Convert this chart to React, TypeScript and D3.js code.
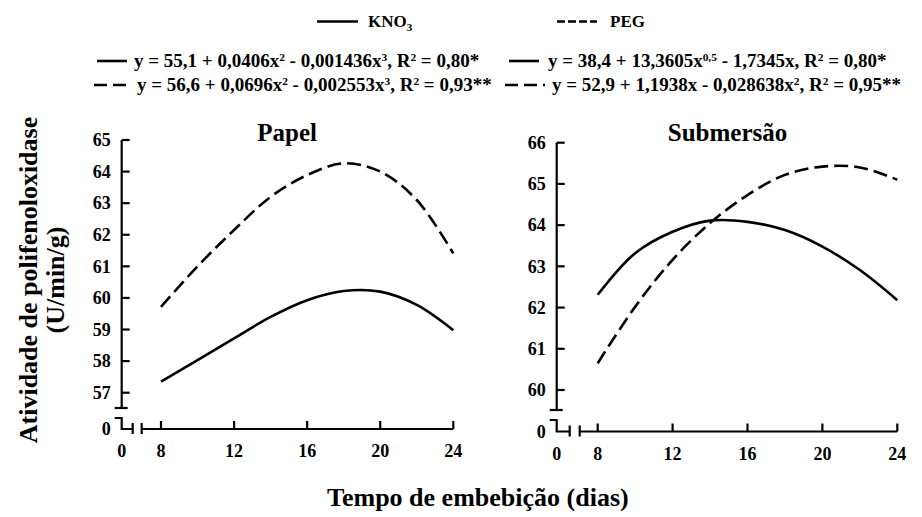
import React from 'react';
import * as d3 from 'd3';

const days = [8, 10, 12, 14, 16, 18, 20, 22, 24];
const papelKNO3 = [57.35, 58.03, 58.72, 59.4, 59.93, 60.22, 60.2, 59.78, 58.98];
const papelPEG = [59.72, 61.0, 62.15, 63.2, 63.89, 64.26, 64.0, 63.1, 61.41];
const submKNO3 = [62.31, 63.32, 63.84, 64.11, 64.08, 63.88, 63.48, 62.91, 62.18];
const submPEG = [60.65, 62.02, 63.16, 64.05, 64.73, 65.22, 65.42, 65.4, 65.1];

const xTicks = [8, 12, 16, 20, 24];
const papelYTicks = [57, 58, 59, 60, 61, 62, 63, 64, 65];
const submYTicks = [60, 61, 62, 63, 64, 65, 66];

const panelTitles = ['Papel', 'Submersão'];
const seriesNames = ['KNO', 'PEG'];
const yTitle1 = 'Atividade de polifenoloxidase';
const yTitle2 = '(U/min/g)';
const xTitle = 'Tempo de embebição (dias)';

const FONT = '"Liberation Serif", "Times New Roman", serif';

type Panel = {
  title: string;
  axisX: number;
  xRange: [number, number];
  yDomain: [number, number];
  yRange: [number, number];
  yTicks: number[];
  axisBottom: number;
  xAxisY: number;
  bar1: number;
  bar2: number;
  kno: number[];
  peg: number[];
};

const panels: Panel[] = [
  {
    title: panelTitles[0],
    axisX: 121.7,
    xRange: [161, 453.3],
    yDomain: [57, 65],
    yRange: [392.7, 140],
    yTicks: papelYTicks,
    axisBottom: 408,
    xAxisY: 429,
    bar1: 11,
    bar2: 20,
    kno: papelKNO3,
    peg: papelPEG,
  },
  {
    title: panelTitles[1],
    axisX: 556.7,
    xRange: [597.7, 897.3],
    yDomain: [60, 66],
    yRange: [390, 142.7],
    yTicks: submYTicks,
    axisBottom: 410,
    xAxisY: 431.5,
    bar1: 13,
    bar2: 23,
    kno: submKNO3,
    peg: submPEG,
  },
];

function PanelView({ p }: { p: Panel }) {
  const x = d3.scaleLinear().domain([8, 24]).range(p.xRange);
  const y = d3.scaleLinear().domain(p.yDomain).range(p.yRange);
  const line = d3
    .line<number>()
    .x((_, i) => x(days[i]))
    .y((d) => y(d))
    .curve(d3.curveCatmullRom.alpha(0.5));
  const x0 = p.axisX;
  const yTop = y(p.yDomain[1]);
  const ay = p.xAxisY;
  const sw = 2.2;
  const tickFont = 18;
  return (
    <g>
      <text
        x={(p.xRange[0] + p.xRange[1]) / 2 - 20}
        y={141}
        textAnchor="middle"
        fontFamily={FONT}
        fontWeight="bold"
        fontSize={25}
      >
        {p.title}
      </text>
      <g stroke="#000" strokeWidth={sw} fill="none">
        <line x1={x0} x2={x0} y1={yTop} y2={p.axisBottom} />
        <line x1={x0 - 7} x2={x0 + 6} y1={p.axisBottom} y2={p.axisBottom} />
        {p.yTicks.map((t) => (
          <line key={t} x1={x0} x2={x0 + 8} y1={y(t)} y2={y(t)} />
        ))}
        <path d={`M${x0 - 7},${p.axisBottom + 10} H${x0} V${ay} H${x0 + p.bar1}`} />
        <line x1={x0 + p.bar1} x2={x0 + p.bar1} y1={ay - 6} y2={ay + 5} />
        <line x1={x0 + p.bar2} x2={x0 + p.bar2} y1={ay - 6} y2={ay + 5} />
        <line x1={x0 + p.bar2} x2={x(24)} y1={ay} y2={ay} />
        {xTicks.map((t) => (
          <line key={t} x1={x(t)} x2={x(t)} y1={ay} y2={ay - 8} />
        ))}
      </g>
      <g fontFamily={FONT} fontWeight="bold" fontSize={tickFont} fill="#000">
        {p.yTicks.map((t) => (
          <text key={t} x={x0 - 11} y={y(t)} dy="0.35em" textAnchor="end">
            {t}
          </text>
        ))}
        <text x={x0 - 11} y={ay} dy="0.35em" textAnchor="end">
          0
        </text>
        <text x={x0} y={ay + 28} textAnchor="middle">
          0
        </text>
        {xTicks.map((t) => (
          <text key={t} x={x(t)} y={ay + 28} textAnchor="middle">
            {t}
          </text>
        ))}
      </g>
      <path d={line(p.kno) || ''} fill="none" stroke="#000" strokeWidth={2.6} />
      <path
        d={line(p.peg) || ''}
        fill="none"
        stroke="#000"
        strokeWidth={2.6}
        strokeDasharray="14,6"
      />
    </g>
  );
}

function Sup({ children }: { children: React.ReactNode }) {
  return (
    <tspan baselineShift="super" fontSize="0.6em">
      {children}
    </tspan>
  );
}

export default function App() {
  const eqFont = 19;
  return (
    <svg
      width={922}
      height={517}
      style={{ position: 'absolute', left: 0, top: 0, background: '#fff' }}
    >
      <rect width={922} height={517} fill="#fff" />
      <g fontFamily={FONT} fontWeight="bold" fontSize={17} fill="#000">
        <line x1={317} x2={358} y1={21.5} y2={21.5} stroke="#000" strokeWidth={2.6} />
        <text x={368} y={27}>
          {seriesNames[0]}
          <tspan dy={4} fontSize={11}>3</tspan>
        </text>
        <line
          x1={557}
          x2={597}
          y1={21.5}
          y2={21.5}
          stroke="#000"
          strokeWidth={2.6}
          strokeDasharray="8,3"
        />
        <text x={610} y={27}>
          {seriesNames[1]}
        </text>
      </g>
      <g fontFamily={FONT} fontWeight="bold" fontSize={eqFont} fill="#000">
        <line x1={97} x2={127} y1={61} y2={61} stroke="#000" strokeWidth={2.6} />
        <text x={134} y={67}>
          y = 55,1 + 0,0406x<Sup>2</Sup> - 0,001436x<Sup>3</Sup>, R<Sup>2</Sup> = 0,80*
        </text>
        <line x1={509} x2={539} y1={61} y2={61} stroke="#000" strokeWidth={2.6} />
        <text x={548} y={67}>
          y = 38,4 + 13,3605x<Sup>0,5</Sup> - 1,7345x, R<Sup>2</Sup> = 0,80*
        </text>
        <line
          x1={94}
          x2={132}
          y1={85}
          y2={85}
          stroke="#000"
          strokeWidth={2.6}
          strokeDasharray="13,6"
        />
        <text x={137} y={91}>
          y = 56,6 + 0,0696x<Sup>2</Sup> - 0,002553x<Sup>3</Sup>, R<Sup>2</Sup> = 0,93**
        </text>
        <line
          x1={505}
          x2={545}
          y1={85}
          y2={85}
          stroke="#000"
          strokeWidth={2.6}
          strokeDasharray="13,6"
        />
        <text x={552} y={91}>
          y = 52,9 + 1,1938x - 0,028638x<Sup>2</Sup>,  R<Sup>2</Sup> = 0,95**
        </text>
      </g>
      {panels.map((p) => (
        <PanelView key={p.title} p={p} />
      ))}
      <g fontFamily={FONT} fontWeight="bold" fontSize={26} fill="#000">
        <text transform="translate(37,280) rotate(-90)" textAnchor="middle">
          {yTitle1}
        </text>
        <text transform="translate(64,280) rotate(-90)" textAnchor="middle">
          {yTitle2}
        </text>
        <text x={327} y={506} textAnchor="start">
          {xTitle}
        </text>
      </g>
    </svg>
  );
}
